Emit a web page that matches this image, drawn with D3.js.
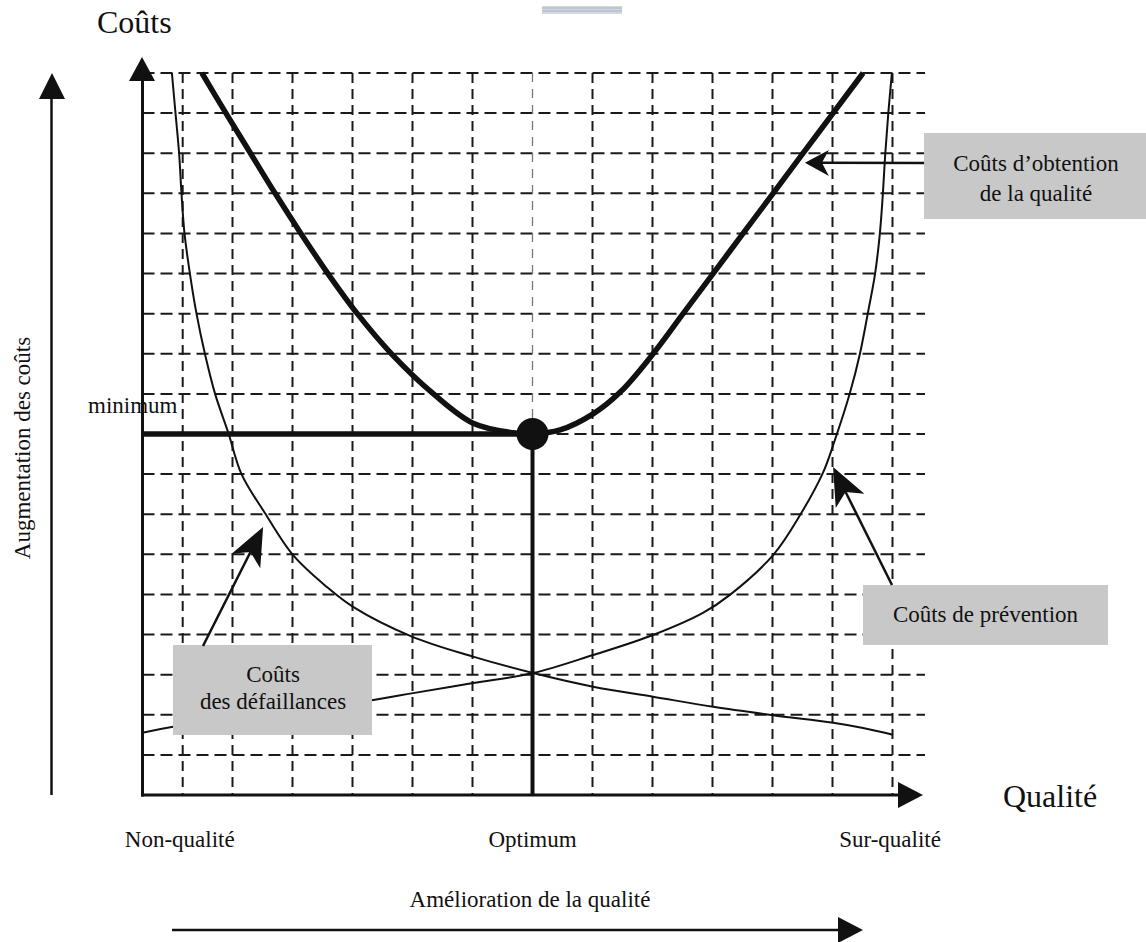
<!DOCTYPE html>
<html><head><meta charset="utf-8">
<script src="https://cdn.jsdelivr.net/npm/d3@7"></script>
<style>
body{margin:0;background:#fff}
svg{display:block}
text{font-family:"Liberation Serif","Times New Roman",serif;fill:#111}
</style>
</head><body>
<svg id="chart" width="1146" height="942"></svg>
<script>
// ---------- data ----------
const qualityGrid = [0.67, 1.5, 2.5, 3.5, 4.5, 5.5, 6.5, 7.5, 8.5, 9.5, 10.5, 11.5, 12.5];
const costGrid = [1,2,3,4,5,6,7,8,9,10,11,12,13,14,15,16,17,18];

// Coûts d'obtention de la qualité (total)
const totalQ = [0.99,1.39,1.80,2.21,2.64,3.09,3.58,4.15,4.85,5.51,6.18,6.50,6.96,7.51,7.98,8.51,9.01,9.51,10.01,10.51,11.01,11.51,12.01];
const totalC = [18.0,17.0,16.0,15.0,14.0,13.0,12.0,11.0,10.0,9.27,9.03,9.0,9.10,9.50,10.07,11.0,12.0,13.0,14.0,15.0,16.0,17.0,18.0];

// Coûts des défaillances (décroissant)
const failQ = [0.49,0.55,0.61,0.65,0.70,0.79,0.90,1.04,1.21,1.43,1.65,2.04,2.51,3.07,3.51,4.49,5.51,6.51,7.51,8.51,9.51,10.51,11.51,12.01,12.51];
const failC = [18.0,17.0,16.0,15.0,14.0,13.0,12.0,11.0,10.0,9.03,8.0,7.03,5.98,5.19,4.69,3.95,3.45,3.04,2.70,2.45,2.20,1.99,1.80,1.67,1.50];

// Coûts de prévention (croissant)
const prevQ = [0.0,0.51,3.85,4.51,5.51,6.51,7.51,8.51,9.34,9.79,10.51,10.96,11.34,11.54,11.79,11.96,12.09,12.21,12.29,12.34,12.38,12.43,12.49];
const prevC = [1.55,1.70,2.37,2.54,2.79,3.04,3.49,3.99,4.54,4.99,5.98,6.98,8.03,8.85,10.02,11.02,12.02,13.0,14.01,15.0,16.0,17.0,18.0];

const optimumQ = [6.5];
const minimumC = [9.0];

const xLabels = ["Non-qualité", "Optimum", "Sur-qualité"];
const seriesLabels = ["Coûts d\u2019obtention", "de la qualité", "Coûts de prévention", "Coûts", "des défaillances"];

// ---------- layout ----------
const svg = d3.select("#chart");
const x = d3.scaleLinear().domain([0, 13]).range([142.5, 922.5]);
const y = d3.scaleLinear().domain([0, 18]).range([795, 73]);
const ink = "#111";

const toPts = (qs, cs) => qs.map((q, i) => [q, cs[i]]);
const line = d3.line().x(d => x(d[0])).y(d => y(d[1])).curve(d3.curveCatmullRom.alpha(0.5));

// top decoration
svg.append("rect").attr("x", 542).attr("y", 6).attr("width", 80).attr("height", 8).attr("fill", "#d3d7e0");
[8, 11].forEach(v => svg.append("line").attr("x1", 542).attr("x2", 622).attr("y1", v).attr("y2", v)
  .attr("stroke", "#aab1c0").attr("stroke-width", 1));

// grid
const g = svg.append("g");
g.selectAll("line.h").data(costGrid).join("line").attr("class", "h")
  .attr("x1", x(0)).attr("x2", 925).attr("y1", d => y(d)).attr("y2", d => y(d))
  .attr("stroke", "#1a1a1a").attr("stroke-width", 2).attr("stroke-dasharray", "12,6");
g.selectAll("line.v").data(qualityGrid.filter(d => d !== optimumQ[0])).join("line").attr("class", "v")
  .attr("x1", d => x(d)).attr("x2", d => x(d)).attr("y1", y(18)).attr("y2", y(0))
  .attr("stroke", "#1a1a1a").attr("stroke-width", 2).attr("stroke-dasharray", "10,6");
// light dashed line above optimum
g.append("line").attr("x1", x(optimumQ[0])).attr("x2", x(optimumQ[0]))
  .attr("y1", y(18)).attr("y2", y(minimumC[0]))
  .attr("stroke", "#777").attr("stroke-width", 1.3).attr("stroke-dasharray", "9,7");

// curves
svg.append("path").attr("d", line(toPts(failQ, failC))).attr("fill", "none").attr("stroke", ink).attr("stroke-width", 2);
svg.append("path").attr("d", line(toPts(prevQ, prevC))).attr("fill", "none").attr("stroke", ink).attr("stroke-width", 2);
svg.append("path").attr("d", line(toPts(totalQ, totalC))).attr("fill", "none").attr("stroke", ink).attr("stroke-width", 5.5)
  .attr("stroke-linecap", "butt");

// minimum lines & dot
svg.append("line").attr("x1", x(0)).attr("x2", x(optimumQ[0])).attr("y1", y(minimumC[0])).attr("y2", y(minimumC[0]))
  .attr("stroke", ink).attr("stroke-width", 5.5);
svg.append("line").attr("x1", x(optimumQ[0])).attr("x2", x(optimumQ[0])).attr("y1", y(minimumC[0])).attr("y2", y(0))
  .attr("stroke", ink).attr("stroke-width", 4);
svg.append("circle").attr("cx", x(optimumQ[0])).attr("cy", y(minimumC[0])).attr("r", 16).attr("fill", ink);

// axes
svg.append("line").attr("x1", x(0)).attr("x2", x(0)).attr("y1", y(0) + 1.5).attr("y2", 78).attr("stroke", ink).attr("stroke-width", 3);
svg.append("path").attr("d", "M142,57 L129,81 L155,81 Z").attr("fill", ink);
svg.append("line").attr("x1", x(0) - 1.5).attr("x2", 900).attr("y1", y(0)).attr("y2", y(0)).attr("stroke", ink).attr("stroke-width", 3);
svg.append("path").attr("d", "M923,795 L898,782 L898,808 Z").attr("fill", ink);

// left arrow
svg.append("line").attr("x1", 51.5).attr("x2", 51.5).attr("y1", 795).attr("y2", 97).attr("stroke", ink).attr("stroke-width", 2.5);
svg.append("path").attr("d", "M52,73 L39,99 L65,99 Z").attr("fill", ink);
// bottom arrow
svg.append("line").attr("x1", 172).attr("x2", 842).attr("y1", 930).attr("y2", 930).attr("stroke", ink).attr("stroke-width", 2.5);
svg.append("path").attr("d", "M863,930 L838,917 L838,943 Z").attr("fill", ink);

// callout boxes
const boxFill = "#c8c8c8";
svg.append("rect").attr("x", 924).attr("y", 133).attr("width", 222).attr("height", 86).attr("fill", boxFill);
svg.append("rect").attr("x", 863).attr("y", 585).attr("width", 245).attr("height", 60).attr("fill", boxFill);
svg.append("rect").attr("x", 173).attr("y", 645).attr("width", 199).attr("height", 90).attr("fill", boxFill);

// arrows to curves
function calloutArrow(fx, fy, tq, tc, L, W, N) {
  const tx = x(tq), ty = y(tc);
  const dx = fx - tx, dy = fy - ty, len = Math.hypot(dx, dy);
  const ux = dx / len, uy = dy / len, px = -uy, py = ux;
  const nx = tx + ux * (L - N), ny = ty + uy * (L - N);
  svg.append("line").attr("x1", fx).attr("y1", fy).attr("x2", nx).attr("y2", ny)
    .attr("stroke", ink).attr("stroke-width", 2.5);
  svg.append("path").attr("d", `M${tx},${ty} L${tx + ux * L + px * W},${ty + uy * L + py * W} L${nx},${ny} L${tx + ux * L - px * W},${ty + uy * L - py * W} Z`)
    .attr("fill", ink);
}
calloutArrow(924, 163, 11.04, 15.76, 24, 13, 7);
calloutArrow(892, 585, 11.51, 8.18, 38, 16, 10);
calloutArrow(203, 646, 2.01, 6.68, 38, 16, 10);

// texts
const t = (txt, px, py, size, anchor) => svg.append("text").attr("x", px).attr("y", py)
  .attr("font-size", size).attr("text-anchor", anchor || "start").text(txt);
t("Coûts", 97, 33, 32);
t("Qualité", 1003, 807, 32);
t(xLabels[0], x(0.62), 847, 23, "middle");
t(xLabels[1], x(optimumQ[0]), 847, 23, "middle");
t(xLabels[2], x(12.46), 847, 23, "middle");
t("Amélioration de la qualité", 530, 907, 23, "middle");
t("minimum", 88, 413, 23);
t(seriesLabels[0], 1036, 171, 23, "middle");
t(seriesLabels[1], 1036, 201, 23, "middle");
t(seriesLabels[2], 985.5, 622, 23, "middle");
t(seriesLabels[3], 273, 682, 23, "middle");
t(seriesLabels[4], 273, 709, 23, "middle");
svg.append("text").attr("transform", "translate(30,448) rotate(-90)").attr("text-anchor", "middle")
  .attr("font-size", 23).text("Augmentation des coûts");
</script>
</body></html>
